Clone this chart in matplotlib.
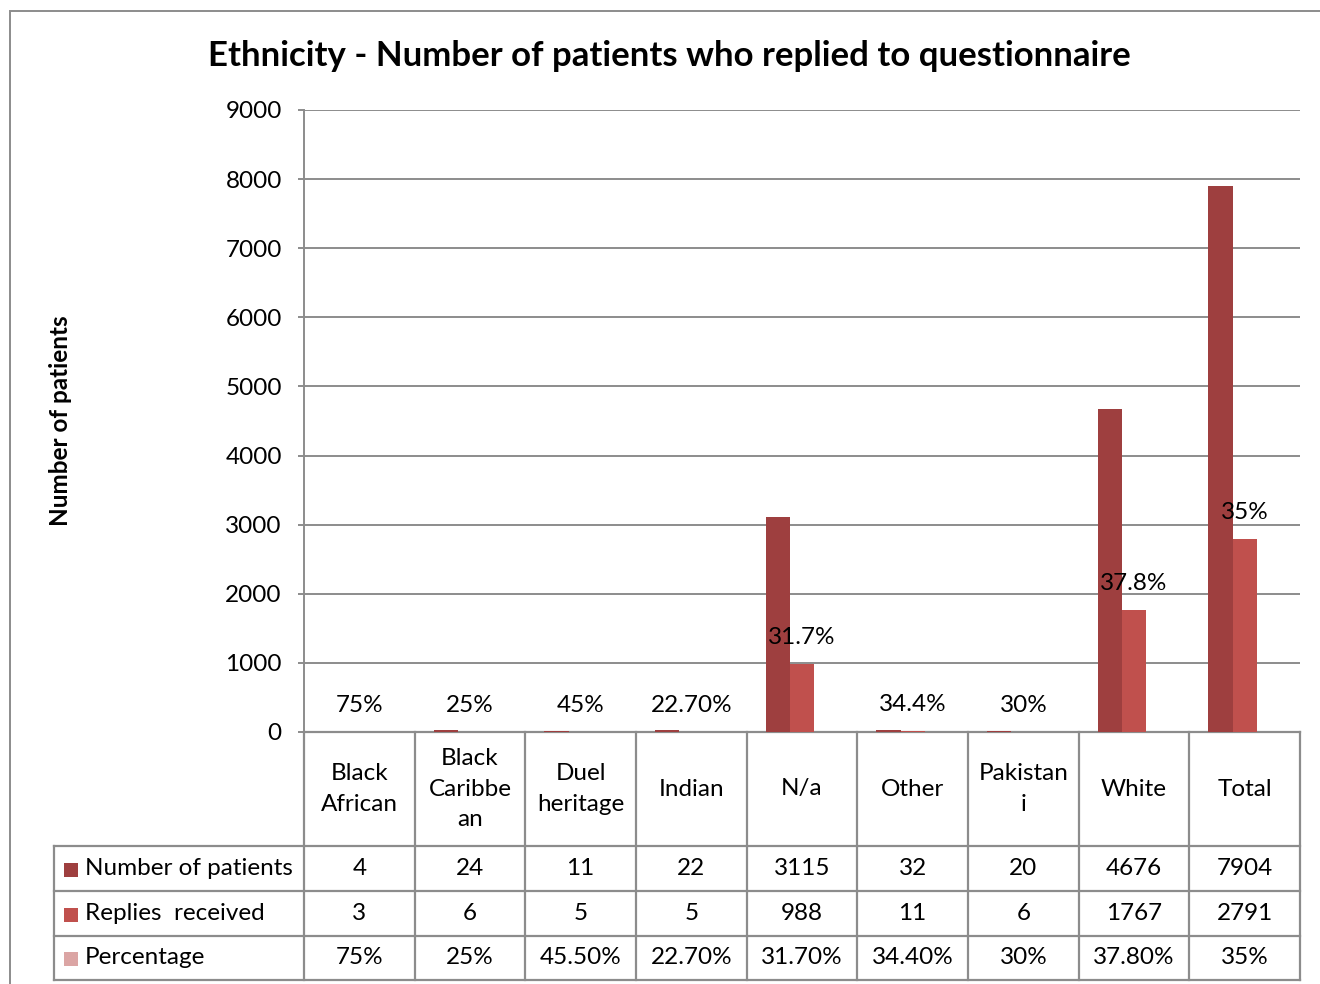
import matplotlib
matplotlib.use("Agg")
import matplotlib.pyplot as plt
import numpy as np
from matplotlib.patches import Rectangle

# data
categories = ["Black\nAfrican", "Black\nCaribbe\nan", "Duel\nheritage", "Indian", "N/a",
              "Other", "Pakistan\ni", "White", "Total"]
patients = [4, 24, 11, 22, 3115, 32, 20, 4676, 7904]
replies = [3, 6, 5, 5, 988, 11, 6, 1767, 2791]
percentage = [0.75, 0.25, 0.455, 0.227, 0.317, 0.344, 0.30, 0.378, 0.35]
pct_table = ["75%", "25%", "45.50%", "22.70%", "31.70%", "34.40%", "30%", "37.80%", "35%"]
pct_labels = ["75%", "25%", "45%", "22.70%", "31.7%", "34.4%", "30%", "37.8%", "35%"]
series_names = ["Number of patients", "Replies  received", "Percentage"]
colors = ["#9E3F3F", "#C0504D", "#DBA5A4"]

plt.rcParams['font.family'] = ['Lato', 'DejaVu Sans']
fs = 17.5

fig = plt.figure(figsize=(13.2, 9.84), dpi=100)
W, H = 1320, 984
ax = fig.add_axes([304 / W, 1 - 732 / H, (1300 - 304) / W, (732 - 110) / H])

x = np.arange(len(categories)) + 0.5
bw = 0.218
ax.bar(x - bw, patients, bw, color=colors[0], align='center', zorder=3)
ax.bar(x, replies, bw, color=colors[1], align='center', zorder=3)
ax.bar(x + bw, percentage, bw, color=colors[2], align='center', zorder=3)

for xi, r, lab in zip(x, replies, pct_labels):
    ax.annotate(lab, (xi, r), xytext=(0, 19), textcoords='offset points',
                ha='center', va='center', fontsize=fs, zorder=4)

ax.set_xlim(0, len(categories))
ax.set_ylim(0, 9000)
ax.set_yticks(np.arange(0, 9001, 1000))
ax.set_xticks([])
ax.yaxis.grid(True, color='#8C8C8C', linewidth=1.4, zorder=0)
ax.tick_params(axis='y', labelsize=fs, length=4, color='#8C8C8C', width=1.4, pad=12)
for s in ['top', 'right', 'bottom']:
    ax.spines[s].set_visible(False)
ax.spines['left'].set_color('#8C8C8C')
ax.spines['left'].set_linewidth(1.4)

fig.text(61 / W, 1 - 421 / H, "Number of patients", rotation=90, ha='center', va='center',
         fontsize=fs, fontweight='bold')
fig.text(669 / W, 1 - 56 / H, "Ethnicity - Number of patients who replied to questionnaire",
         ha='center', va='center', fontsize=25, fontweight='bold')

# data table below the axes (x in data units, y in axes fraction)
trans = ax.get_xaxis_transform()
ph = 732 - 110
def yf(py):
    return (732 - py) / ph

lc = '#8C8C8C'
lw = 1.6
row_tops = [732, 846, 891, 936, 980]
x_left = (54 - 304) / (1300 - 304) * len(categories)
# horizontal lines
ax.plot([0, len(categories)], [yf(732)] * 2, transform=trans, color=lc, lw=lw, clip_on=False)
for py in row_tops[1:]:
    ax.plot([x_left, len(categories)], [yf(py)] * 2, transform=trans, color=lc, lw=lw, clip_on=False)
# vertical lines
for i in range(len(categories) + 1):
    ax.plot([i, i], [yf(732), yf(980)], transform=trans, color=lc, lw=lw, clip_on=False)
ax.plot([x_left, x_left], [yf(846), yf(980)], transform=trans, color=lc, lw=lw, clip_on=False)

for xi, c in zip(x, categories):
    ax.text(xi, yf(789), c, transform=trans, ha='center', va='center', fontsize=fs,
            linespacing=1.55, clip_on=False)

rows = [[str(v) for v in patients], [str(v) for v in replies], pct_table]
for r, (vals, name, col) in enumerate(zip(rows, series_names, colors)):
    ymid = (row_tops[r + 1] + row_tops[r + 2]) / 2
    for xi, v in zip(x, vals):
        ax.text(xi, yf(ymid), v, transform=trans, ha='center', va='center', fontsize=fs,
                clip_on=False)
    fig.patches.append(Rectangle((64 / W, 1 - (ymid + 8) / H), 14 / W, 14 / H,
                                 transform=fig.transFigure, facecolor=col, edgecolor='none'))
    fig.text(85 / W, 1 - ymid / H, name, ha='left', va='center', fontsize=fs)

# chart area border
fig.patches.append(Rectangle((10 / W, -0.1), 1.2, 1 - 11 / H + 0.1, transform=fig.transFigure,
                             facecolor='none', edgecolor='#8C8C8C', lw=1.4))

fig.savefig("out.png", dpi=100)
